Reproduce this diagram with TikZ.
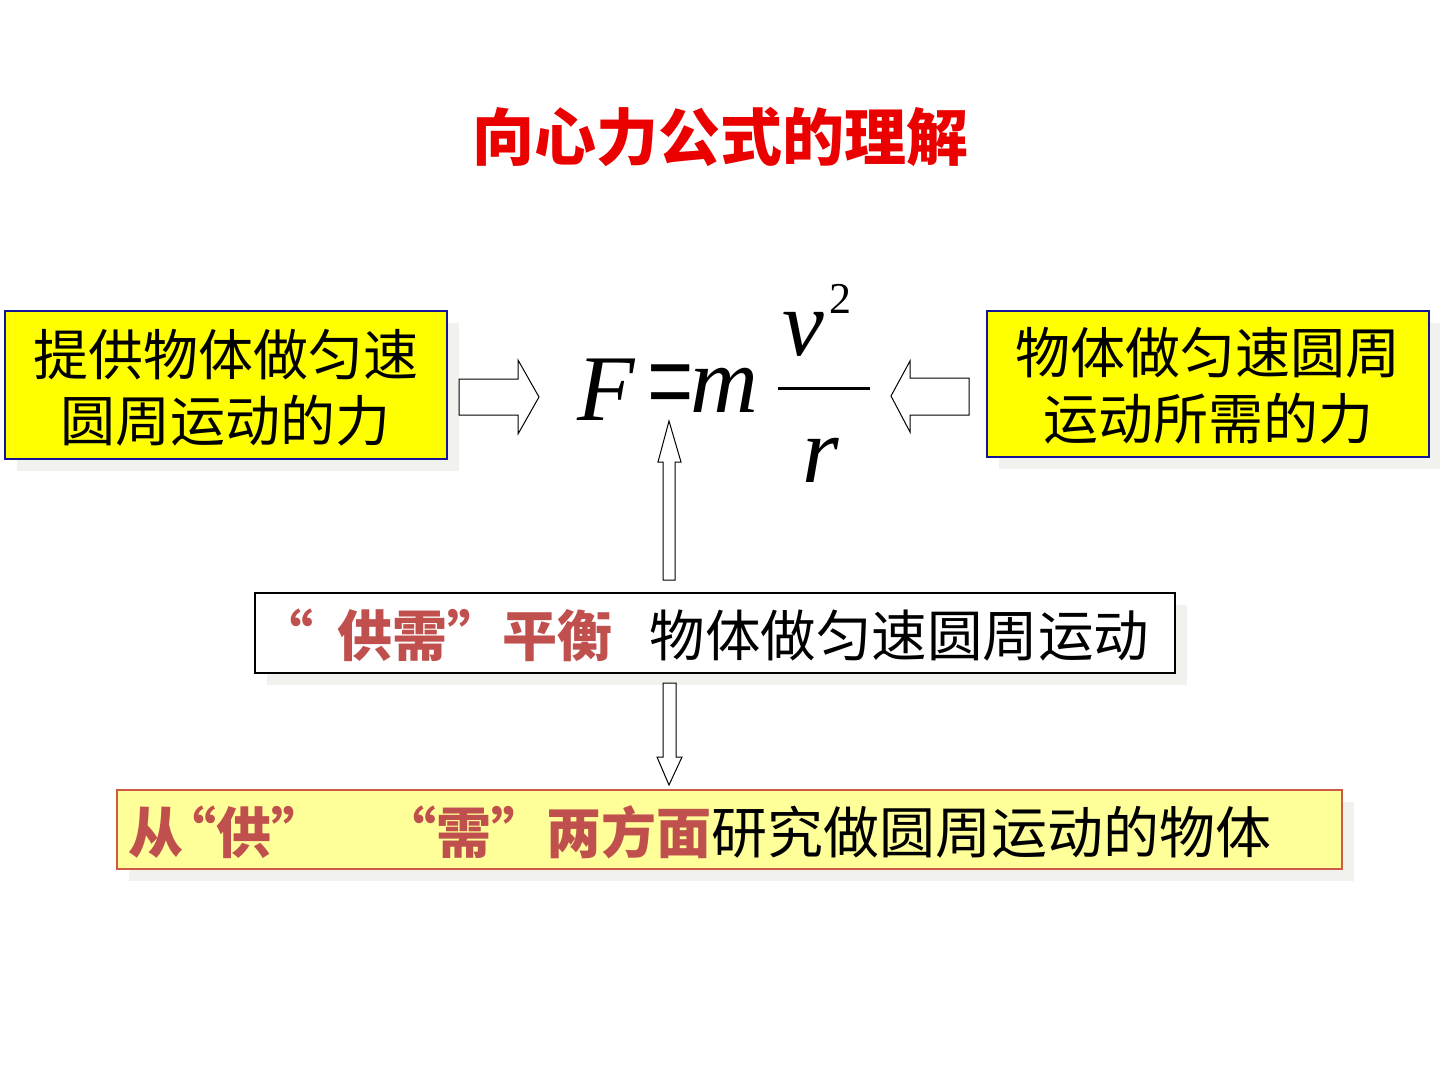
\documentclass[tikz,border=0pt]{standalone}
\usepackage{fontspec}
\newfontfamily\cjk{Noto Sans CJK SC}
\newfontfamily\tms{Liberation Serif}
\definecolor{titlered}{RGB}{235,0,0}
\definecolor{darkred}{RGB}{192,80,77}
\definecolor{boxyellow}{RGB}{255,255,0}
\definecolor{paleyellow}{RGB}{255,255,153}
\definecolor{boxblue}{RGB}{20,20,150}
\definecolor{rustline}{RGB}{205,90,70}
\definecolor{shadowgray}{RGB}{241,241,237}
\tikzset{
  x=1pt,y=-1pt,
  box/.style={inner sep=0pt, outer sep=0pt, align=center},
  blockarrow/.style={draw=black, fill=white, line width=1pt, line join=miter},
  mathtxt/.style={inner sep=0pt, anchor=base, font=\tms\itshape\fontsize{94}{94}\selectfont},
}
\begin{document}
\begin{tikzpicture}
\useasboundingbox (0,0) rectangle (1440,1080);
\fill[white] (0,0) rectangle (1440,1080);

% title
\node[inner sep=0pt, text=titlered, font=\cjk\bfseries\fontsize{62}{62}\selectfont] (title) at (720,137) {向心力公式的理解};

% shadows
\fill[shadowgray] (17,323) rectangle (459,471);
\fill[shadowgray] (999,323) rectangle (1441,469);
\fill[shadowgray] (267,605) rectangle (1187,685);
\fill[shadowgray] (129,802) rectangle (1354,881);

% left box
\draw[fill=boxyellow, draw=boxblue, line width=1.2pt] (5,311) rectangle (447,459);
\node[box, font=\cjk\fontsize{55}{66}\selectfont] (supply) at (226,388) {提供物体做匀速\\圆周运动的力};

% right box
\draw[fill=boxyellow, draw=boxblue, line width=1.2pt] (987,311) rectangle (1429,457);
\node[box, font=\cjk\fontsize{55}{66}\selectfont] (demand) at (1208,386) {物体做匀速圆周\\运动所需的力};

% formula
\node[mathtxt] (F) at (606,420) {F};
\node[inner sep=0pt, anchor=base, font=\tms\fontsize{82}{82}\selectfont] (eq) at (671,428) {\scalebox{1}[1.7]{=}};
\node[mathtxt] (m) at (724,412) {m};
\node[mathtxt] (v) at (803,355) {v};
\node[inner sep=0pt, anchor=base, font=\tms\fontsize{44}{44}\selectfont] (two) at (840,313) {2};
\node[mathtxt] (r) at (821,482) {r};
\draw[line width=3pt] (778,388) -- (870,388);

% middle box
\draw[fill=white, draw=black, line width=1.5pt] (255,593) rectangle (1175,673);
\node[box, font=\cjk\fontsize{55}{55}\selectfont, anchor=west] (balance) at (258,635)
  {\textcolor{darkred}{\bfseries “\hspace{0.45em}供需”平衡}\hspace{0.67em}{\fontsize{55.5}{55.5}\selectfont 物体做匀速圆周运动}};

% bottom box
\draw[fill=paleyellow, draw=rustline, line width=1.2pt] (117,790) rectangle (1342,869);
\node[box, font=\cjk\fontsize{55}{55}\selectfont, anchor=west] (study) at (128,832)
  {\textcolor{darkred}{\bfseries 从\hspace{-0.4em}“供”\hspace{1em}“需”两方面}{\fontsize{56}{56}\selectfont 研究做圆周运动的物体}};

% block arrows
\draw[blockarrow] (459,379) -- (518,379) -- (518,360) -- (539,397) -- (518,434) -- (518,415) -- (459,415) -- cycle;
\draw[blockarrow] (969,378) -- (910,378) -- (910,361) -- (891,396) -- (910,432) -- (910,415) -- (969,415) -- cycle;
\draw[blockarrow] (663,580) -- (663,462) -- (658,462) -- (669,421) -- (681,462) -- (675,462) -- (675,580) -- cycle;
\draw[blockarrow] (663,683) -- (663,757) -- (657,757) -- (669,785) -- (682,757) -- (676,757) -- (676,683) -- cycle;
\end{tikzpicture}
\end{document}
